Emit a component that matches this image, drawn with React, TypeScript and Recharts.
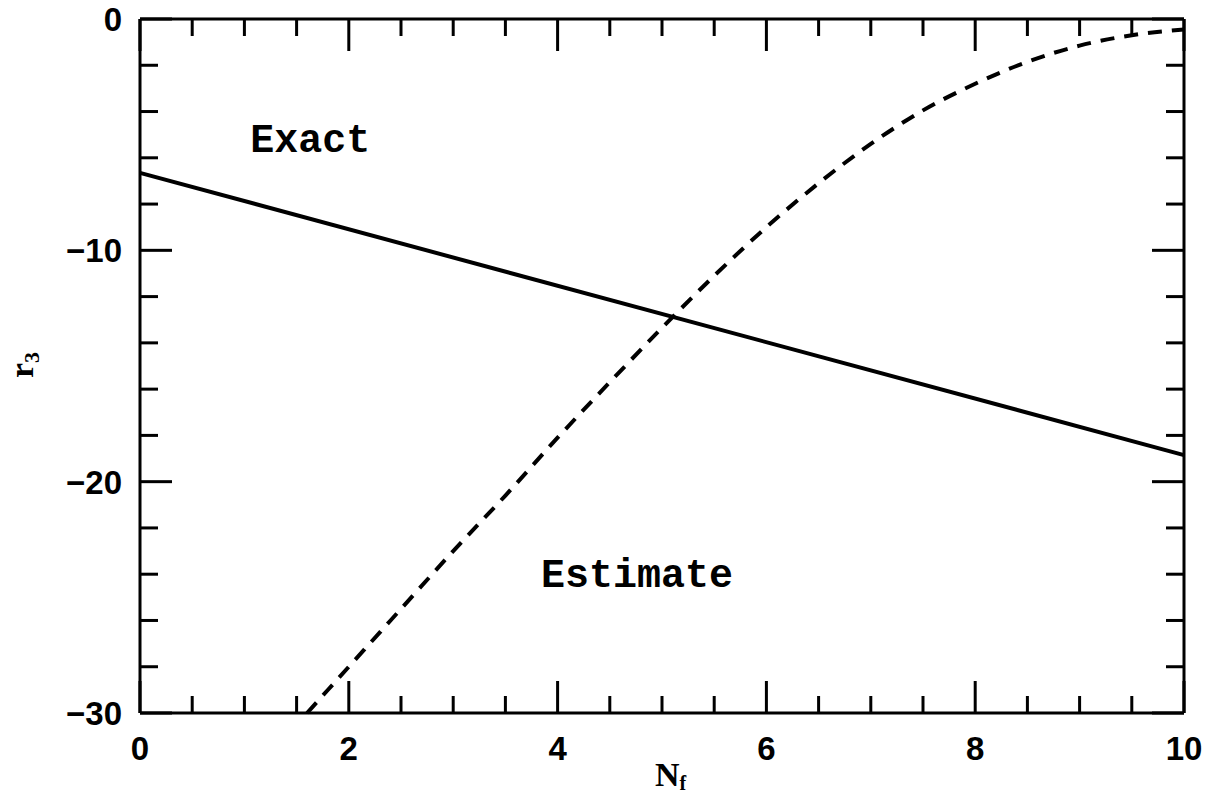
import React from 'react';
import { LineChart, Line, XAxis, YAxis, ReferenceLine, ReferenceDot } from 'recharts';

// solid curve: exact r3 vs N_f
const exactX = [0, 10];
const exactY = [-6.65, -18.85];

// dashed curve: estimate
const estimateX = [1.6, 2, 2.5, 3, 3.5, 4, 4.5, 5, 5.5, 6, 6.5, 7, 7.5, 8, 8.5, 9, 9.5, 10];
const estimateY = [-30, -28.0, -25.5, -23.0, -20.6, -18.1, -15.7, -13.35, -11.1, -9.0, -7.1, -5.4, -3.95, -2.8, -1.85, -1.15, -0.7, -0.45];

const xTicks = [0, 0.5, 1, 1.5, 2, 2.5, 3, 3.5, 4, 4.5, 5, 5.5, 6, 6.5, 7, 7.5, 8, 8.5, 9, 9.5, 10];
const yTicks = [-30, -28, -26, -24, -22, -20, -18, -16, -14, -12, -10, -8, -6, -4, -2, 0];

const exactData = exactX.map((x, i) => ({ x, y: exactY[i] }));
const estimateData = estimateX.map((x, i) => ({ x, y: estimateY[i] }));

const W = 1219;
const H = 797;
const X_AXIS_H = 60;
const Y_AXIS_W = 80;
// plot box: left 140, top 19, right 1184, bottom 713
const M = { top: 19, right: 35, bottom: 84 - X_AXIS_H, left: 140 - Y_AXIS_W };
const PLOT_TOP = M.top;
const PLOT_RIGHT = W - M.right;

const tickFont = { fontFamily: '"Liberation Sans", Arial, sans-serif', fontWeight: 700, fontSize: 33 };

function XTick(props: any) {
  const { x, y, payload } = props;
  const v = payload.value;
  const major = v % 2 === 0;
  const len = major ? 32 : 17;
  return (
    <g>
      <line x1={x} x2={x} y1={y} y2={y - len} stroke="#000" strokeWidth={3} />
      <line x1={x} x2={x} y1={PLOT_TOP} y2={PLOT_TOP + len} stroke="#000" strokeWidth={3} />
      {major && (
        <text x={x} y={y + 47} textAnchor="middle" fill="#000" style={tickFont}>
          {v}
        </text>
      )}
    </g>
  );
}

function YTick(props: any) {
  const { x, y, payload } = props;
  const v = payload.value;
  const major = v % 10 === 0;
  const len = major ? 32 : 18;
  return (
    <g>
      <line x1={x} x2={x + len} y1={y} y2={y} stroke="#000" strokeWidth={3} />
      <line x1={PLOT_RIGHT} x2={PLOT_RIGHT - len} y1={y} y2={y} stroke="#000" strokeWidth={3} />
      {major && (
        <text x={x - 18} y={y + 12} textAnchor="end" fill="#000" style={tickFont}>
          {v < 0 ? '\u2212' + Math.abs(v) : v}
        </text>
      )}
    </g>
  );
}

const noteStyle = { fontFamily: '"Liberation Mono", "Courier New", monospace', fontWeight: 700, fontSize: 40, fill: '#000' };
const titleFont = { fontFamily: '"Liberation Serif", serif', fontWeight: 700, fontSize: 34 };

export default function App() {
  return (
    <div style={{ position: 'absolute', left: 0, top: 0, background: '#fff' }}>
      <LineChart width={W} height={H} margin={M}>
        <XAxis
          dataKey="x"
          type="number"
          domain={[0, 10]}
          ticks={xTicks}
          interval={0}
          height={X_AXIS_H}
          tickSize={0}
          tickMargin={0}
          tickLine={false}
          tick={<XTick />}
          axisLine={{ stroke: '#000', strokeWidth: 3 }}
          label={{
            content: () => (
              <text x={655} y={786} fill="#000" style={titleFont}>
                N<tspan dy={4} fontSize={20}>f</tspan>
              </text>
            ),
          }}
        />
        <YAxis
          dataKey="y"
          type="number"
          domain={[-30, 0]}
          ticks={yTicks}
          interval={0}
          width={Y_AXIS_W}
          tickSize={0}
          tickMargin={0}
          tickLine={false}
          tick={<YTick />}
          axisLine={{ stroke: '#000', strokeWidth: 3 }}
          label={{
            content: () => (
              <text transform="translate(33,378) rotate(-90)" fill="#000" style={titleFont}>
                r<tspan dy={6} fontSize={22}>3</tspan>
              </text>
            ),
          }}
        />
        <ReferenceLine y={0} stroke="#000" strokeWidth={3} />
        <ReferenceLine x={10} stroke="#000" strokeWidth={3} />
        <Line data={exactData} dataKey="y" type="linear" stroke="#000" strokeWidth={4} dot={false} isAnimationActive={false} />
        <Line data={estimateData} dataKey="y" type="monotone" stroke="#000" strokeWidth={4} strokeDasharray="14 10" dot={false} isAnimationActive={false} />
        <ReferenceDot x={1.63} y={-5.15} r={0} label={{ value: 'Exact', position: 'center', style: noteStyle }} />
        <ReferenceDot x={4.76} y={-23.95} r={0} label={{ value: 'Estimate', position: 'center', style: noteStyle }} />
      </LineChart>
    </div>
  );
}
